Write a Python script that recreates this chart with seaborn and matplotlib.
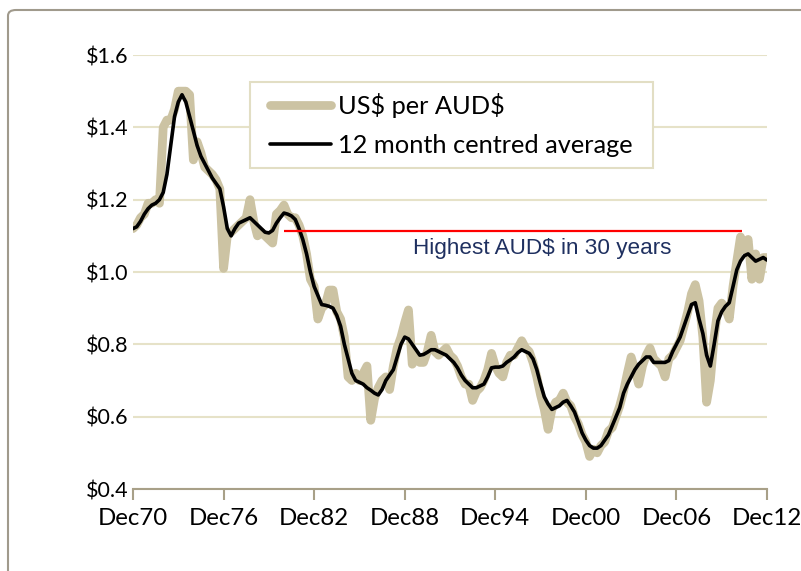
import pandas as pd
import matplotlib
matplotlib.use('Agg')
import matplotlib.pyplot as plt
import seaborn as sns
from matplotlib.patches import FancyBboxPatch, Rectangle

# quarterly readings, Dec 1970 .. Dec 2012 (Mar, Jun, Sep, Dec for each year)
usd_per_aud = [1.12,
    1.13, 1.15, 1.16, 1.19,   # 1971
    1.19, 1.20, 1.19, 1.40,   # 1972
    1.42, 1.42, 1.45, 1.50,   # 1973
    1.50, 1.50, 1.49, 1.31,   # 1974
    1.36, 1.33, 1.29, 1.28,   # 1975
    1.27, 1.255, 1.23, 1.01,  # 1976
    1.10, 1.11, 1.12, 1.13,   # 1977
    1.14, 1.15, 1.20, 1.14,   # 1978
    1.10, 1.11, 1.10, 1.09,   # 1979
    1.08, 1.16, 1.17, 1.185,  # 1980
    1.16, 1.15, 1.15, 1.13,   # 1981
    1.10, 1.05, 0.98, 0.96,   # 1982
    0.87, 0.90, 0.91, 0.95,   # 1983
    0.95, 0.89, 0.87, 0.82,   # 1984
    0.71, 0.70, 0.72, 0.70,   # 1985
    0.72, 0.74, 0.59, 0.65,   # 1986
    0.68, 0.70, 0.71, 0.675,  # 1987
    0.74, 0.79, 0.82, 0.86,   # 1988
    0.895, 0.745, 0.77, 0.75, # 1989
    0.75, 0.78, 0.825, 0.78,  # 1990
    0.77, 0.78, 0.79, 0.77,   # 1991
    0.76, 0.74, 0.71, 0.69,   # 1992
    0.69, 0.645, 0.67, 0.68,  # 1993
    0.70, 0.73, 0.775, 0.74,  # 1994
    0.72, 0.71, 0.75, 0.77,   # 1995
    0.77, 0.79, 0.81, 0.79,   # 1996
    0.78, 0.75, 0.71, 0.66,   # 1997
    0.62, 0.565, 0.62, 0.64,  # 1998
    0.645, 0.665, 0.64, 0.63, # 1999
    0.60, 0.58, 0.55, 0.53,   # 2000
    0.49, 0.51, 0.50, 0.52,   # 2001
    0.53, 0.56, 0.57, 0.60,   # 2002
    0.63, 0.67, 0.72, 0.765,  # 2003
    0.73, 0.69, 0.74, 0.77,   # 2004
    0.79, 0.76, 0.75, 0.74,   # 2005
    0.71, 0.76, 0.77, 0.79,   # 2006
    0.81, 0.85, 0.89, 0.94,   # 2007
    0.965, 0.92, 0.82, 0.64,  # 2008
    0.70, 0.82, 0.90, 0.914,  # 2009
    0.90, 0.87, 0.96, 1.03,   # 2010
    1.097, 1.06, 1.09, 0.98,  # 2011
    1.05, 0.98, 1.04, 1.04]   # 2012

centred_avg = [1.12,
    1.125, 1.14, 1.16, 1.175,
    1.185, 1.19, 1.20, 1.22,
    1.27, 1.35, 1.43, 1.47,
    1.49, 1.47, 1.43, 1.39,
    1.35, 1.32, 1.30, 1.28,
    1.26, 1.245, 1.23, 1.18,
    1.12, 1.10, 1.12, 1.135,
    1.14, 1.145, 1.15, 1.14,
    1.13, 1.12, 1.11, 1.108,
    1.115, 1.135, 1.15, 1.163,
    1.16, 1.155, 1.145, 1.12,
    1.09, 1.05, 1.00, 0.96,
    0.935, 0.91, 0.908, 0.905,
    0.90, 0.88, 0.85, 0.80,
    0.76, 0.72, 0.70, 0.695,
    0.69, 0.68, 0.673, 0.665,
    0.66, 0.675, 0.70, 0.715,
    0.73, 0.765, 0.80, 0.82,
    0.815, 0.80, 0.785, 0.77,
    0.772, 0.778, 0.785, 0.785,
    0.78, 0.775, 0.77, 0.76,
    0.75, 0.735, 0.715, 0.70,
    0.69, 0.68, 0.68, 0.685,
    0.69, 0.71, 0.735, 0.737,
    0.737, 0.74, 0.75, 0.757,
    0.765, 0.777, 0.785, 0.78,
    0.775, 0.76, 0.73, 0.69,
    0.655, 0.635, 0.62, 0.625,
    0.63, 0.64, 0.645, 0.63,
    0.613, 0.585, 0.555, 0.535,
    0.52, 0.513, 0.513, 0.52,
    0.535, 0.55, 0.575, 0.60,
    0.625, 0.665, 0.69, 0.71,
    0.73, 0.745, 0.755, 0.765,
    0.765, 0.75, 0.75, 0.75,
    0.75, 0.755, 0.78, 0.80,
    0.82, 0.85, 0.88, 0.91,
    0.915, 0.87, 0.83, 0.77,
    0.74, 0.80, 0.865, 0.89,
    0.905, 0.915, 0.96, 1.006,
    1.03, 1.045, 1.05, 1.04,
    1.03, 1.035, 1.04, 1.033]

tick_years = [1970, 1976, 1982, 1988, 1994, 2000, 2006, 2012]
tick_labels = ['Dec70', 'Dec76', 'Dec82', 'Dec88', 'Dec94', 'Dec00', 'Dec06', 'Dec12']
y_ticks = [0.4, 0.6, 0.8, 1.0, 1.2, 1.4, 1.6]

# the "highest in 30 years" marker line
high_level = 1.113
high_start = pd.Timestamp('1980-12-01')
high_end = pd.Timestamp('2011-04-01')

dates = pd.date_range('1970-12-01', periods=len(usd_per_aud), freq='3MS')
assert len(usd_per_aud) == len(centred_avg) == len(dates)
df = pd.DataFrame({'date': dates, 'raw': usd_per_aud, 'avg': centred_avg})

sns.set_theme(style='white')
plt.rcParams['font.family'] = ['Lato', 'DejaVu Sans']
plt.rcParams['text.parse_math'] = False  # keep the $ signs literal
plt.rcParams['text.color'] = 'black'
plt.rcParams['xtick.labelcolor'] = 'black'
plt.rcParams['ytick.labelcolor'] = 'black'

fig = plt.figure(figsize=(8.01, 5.71), dpi=100)
ax = fig.add_axes([133/801, 1 - 489/571, 634/801, 434/571])

sns.lineplot(data=df, x='date', y='raw', ax=ax, color='#CCC3A3', linewidth=6.3,
             label='US$ per AUD$', solid_capstyle='round', zorder=2)
sns.lineplot(data=df, x='date', y='avg', ax=ax, color='black', linewidth=2.6,
             label='12 month centred average', zorder=2.5)

ax.hlines(high_level, high_start, high_end, color='#FF0000', linewidth=1.6, zorder=4)
ax.text(pd.Timestamp('1998-01-01'), 1.066, 'Highest AUD$ in 30 years',
        family='Liberation Sans', fontsize=16.2, color='#1F3060', ha='center', va='center')

ax.set_xlim(dates[0], dates[-1])
ax.set_ylim(0.4, 1.6)
ax.set_xticks([pd.Timestamp(f'{y}-12-01') for y in tick_years])
ax.set_xticklabels(tick_labels)
ax.set_yticks(y_ticks)
ax.set_yticklabels(['${:.1f}'.format(v) for v in y_ticks])
ax.set_xlabel('')
ax.set_ylabel('')

ax.grid(axis='y', color='#E6E2C8', linewidth=1.5)
ax.set_axisbelow(True)
for s in ['top', 'right', 'left']:
    ax.spines[s].set_visible(False)
ax.spines['bottom'].set_color('#A8A088')
ax.spines['bottom'].set_linewidth(1.5)
ax.tick_params(axis='x', direction='out', length=8, width=1.5, color='#A8A088',
               labelsize=17.3, labelcolor='black', pad=6, bottom=True)
ax.tick_params(axis='y', length=0, labelsize=15.5, labelcolor='black', pad=3)

# legend box drawn separately so the paddings can follow the original
ax.add_patch(Rectangle((0.1845, 0.74), 0.635, 0.198, transform=ax.transAxes,
                       facecolor='white', edgecolor='#E2DEC4', linewidth=1.5, zorder=3))
leg = ax.legend(loc='center left', bbox_to_anchor=(0.216, 0.839), borderaxespad=0,
                borderpad=0, frameon=False, fontsize=18.3, handlelength=2.4,
                handletextpad=0.28, labelspacing=0.62)
leg.set_zorder(5)
for t in leg.get_texts():
    t.set_color('black')
for h in leg.get_lines():
    h.set_solid_capstyle('round')

# outer chart border
fig.patches.append(FancyBboxPatch((8/801, -0.05), 1.05, 0.05 + 1 - 10/571,
                                  boxstyle='round,pad=0,rounding_size=0.01',
                                  transform=fig.transFigure, fill=False,
                                  edgecolor='#A09A8C', linewidth=1.5))

fig.savefig('out.png', dpi=100)
